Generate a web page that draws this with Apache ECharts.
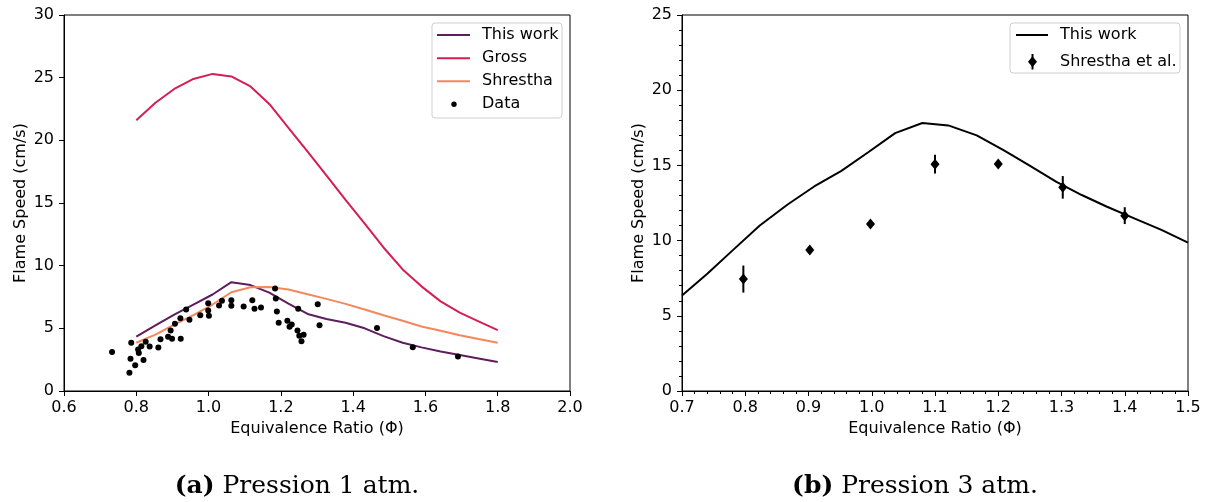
<!DOCTYPE html>
<html>
<head>
<meta charset="utf-8">
<script src="https://cdn.jsdelivr.net/npm/echarts@6/dist/echarts.min.js"></script>
<style>
html,body{margin:0;padding:0;background:#fff;}
#chart{width:1207px;height:502px;}
</style>
</head>
<body>
<div id="chart"></div>
<script>
// ---- Panel (a): 1 atm ----
const phiModel1 = [0.800,0.853,0.905,0.958,1.011,1.063,1.116,1.168,1.221,1.274,1.326,1.379,1.432,1.484,1.537,1.589,1.642,1.695,1.747,1.800];
const thisWork1 = [4.33,5.24,6.10,6.90,7.70,8.68,8.45,7.85,6.98,6.15,5.75,5.45,5.00,4.38,3.85,3.48,3.15,2.88,2.60,2.31];
const gross1    = [21.6,23.0,24.1,24.9,25.3,25.1,24.3,22.9,21.0,19.1,17.2,15.25,13.35,11.45,9.7,8.35,7.15,6.25,5.55,4.86];
const shrestha1 = [3.85,4.50,5.30,6.05,6.90,7.88,8.28,8.30,8.10,7.72,7.35,6.95,6.50,6.05,5.60,5.15,4.80,4.45,4.15,3.85];
const dataPhi1  = [0.733,0.786,0.784,0.797,0.781,0.805,0.807,0.814,0.820,0.826,0.837,0.861,0.867,0.888,0.895,0.899,0.907,0.922,0.923,0.938,
                   0.947,0.977,0.999,0.999,1.001,1.029,1.037,1.063,1.063,1.097,1.121,1.127,1.145,1.184,1.186,1.189,1.194,1.218,1.224,1.230,
                   1.246,1.248,1.251,1.257,1.263,1.302,1.307,1.466,1.565,1.690];
const dataSL1   = [3.11,3.85,2.58,2.05,1.46,3.32,3.03,3.58,2.47,3.93,3.56,3.48,4.12,4.33,4.83,4.17,5.37,5.81,4.17,6.50,
                   5.68,6.05,7.01,6.43,6.00,6.82,7.20,7.25,6.80,6.74,7.25,6.56,6.66,8.18,7.38,6.35,5.45,5.60,5.13,5.31,
                   4.83,6.56,4.41,3.96,4.49,6.93,5.25,5.02,3.50,2.76];
// ---- Panel (b): 3 atm ----
const phiModel3 = [0.700,0.740,0.780,0.823,0.867,0.909,0.952,0.995,1.037,1.080,1.121,1.166,1.209,1.249,1.292,1.332,1.372,1.415,1.458,1.500];
const thisWork3 = [6.35,7.80,9.35,11.0,12.4,13.6,14.64,15.89,17.15,17.82,17.66,17.0,16.0,15.0,13.9,13.03,12.25,11.48,10.71,9.87];
const expPhi3   = [0.797,0.902,0.998,1.100,1.200,1.302,1.400];
const expSL3    = [7.44,9.38,11.10,15.08,15.10,13.54,11.66];
const expErr3   = [0.90,0.20,0.20,0.62,0.20,0.75,0.56];
// ---- Text ----
const xTitle = 'Equivalence Ratio (Φ)';
const yTitle = 'Flame Speed (cm/s)';
const legend1 = ['This work','Gross','Shrestha','Data'];
const legend3 = ['This work','Shrestha et al.'];
const captionA = ['(a)',' Pression 1 atm.'];
const captionB = ['(b)',' Pression 3 atm.'];

const C_THIS = '#5e1d5c', C_GROSS = '#d41f52', C_SHR = '#f5875b';
const FONT = 'DejaVu Sans';
const zip = (a,b) => a.map((v,i)=>[v,b[i]]);

const axisCommon = {
  axisLine:{show:true, onZero:false, lineStyle:{color:'#000', width:1}},
  axisTick:{show:true, inside:false, length:5, lineStyle:{color:'#000', width:1}},
  splitLine:{show:false},
  nameTextStyle:{color:'#000', fontSize:16, fontFamily:FONT},
  nameLocation:'middle'
};
const lblX = {color:'#000', fontSize:16, fontFamily:FONT, margin:9, formatter:v=>v.toFixed(1)};
const lblY = {color:'#000', fontSize:16, fontFamily:FONT, margin:10, formatter:v=>String(Math.round(v))};

const chart = echarts.init(document.getElementById('chart'), null, {renderer:'canvas'});

function legendBox(x, y, w, h){
  return {type:'rect', z:100, shape:{x:x, y:y, width:w, height:h, r:3},
          style:{fill:'rgba(255,255,255,0.85)', stroke:'#cfcfcf', lineWidth:1}};
}
function legendLine(x1, x2, y, color){
  return {type:'line', z:101, shape:{x1:x1, y1:y, x2:x2, y2:y}, style:{stroke:color, lineWidth:2}};
}
function legendText(x, y, t){
  return {type:'text', z:101, x:x, y:y, style:{text:t, fill:'#000', font:'16px "DejaVu Sans"', textVerticalAlign:'middle', textAlign:'left'}};
}

const option = {
  animation:false,
  backgroundColor:'#fff',
  grid:[
    {left:64, right:637, top:15, bottom:111, show:true, borderColor:'#000', borderWidth:1, containLabel:false},
    {left:682, right:19, top:15, bottom:111, show:true, borderColor:'#000', borderWidth:1, containLabel:false}
  ],
  xAxis:[
    Object.assign({}, axisCommon, {gridIndex:0, type:'value', min:0.6, max:2.0, interval:0.2, name:xTitle, nameGap:30, axisLabel:lblX}),
    Object.assign({}, axisCommon, {gridIndex:1, type:'value', min:0.7, max:1.5, interval:0.1, name:xTitle, nameGap:30, axisLabel:lblX,
      minorTick:{show:true, splitNumber:5, length:3, lineStyle:{color:'#000', width:1}}})
  ],
  yAxis:[
    Object.assign({}, axisCommon, {gridIndex:0, type:'value', min:0, max:30, interval:5, name:yTitle, nameGap:35, nameRotate:90, axisLabel:lblY}),
    Object.assign({}, axisCommon, {gridIndex:1, type:'value', min:0, max:25, interval:5, name:yTitle, nameGap:35, nameRotate:90, axisLabel:lblY,
      minorTick:{show:true, splitNumber:5, length:3, lineStyle:{color:'#000', width:1}}})
  ],
  series:[
    {name:legend1[0], type:'line', xAxisIndex:0, yAxisIndex:0, data:zip(phiModel1, thisWork1), symbol:'none', lineStyle:{color:C_THIS, width:2}, z:3},
    {name:legend1[1], type:'line', xAxisIndex:0, yAxisIndex:0, data:zip(phiModel1, gross1), symbol:'none', lineStyle:{color:C_GROSS, width:2}, z:3},
    {name:legend1[2], type:'line', xAxisIndex:0, yAxisIndex:0, data:zip(phiModel1, shrestha1), symbol:'none', lineStyle:{color:C_SHR, width:2}, z:3},
    {name:legend1[3], type:'scatter', xAxisIndex:0, yAxisIndex:0, data:zip(dataPhi1, dataSL1), symbol:'circle', symbolSize:6, itemStyle:{color:'#000', opacity:1}, z:4},
    {name:legend3[0], type:'line', xAxisIndex:1, yAxisIndex:1, data:zip(phiModel3, thisWork3), symbol:'none', lineStyle:{color:'#000', width:2}, z:3},
    {name:legend3[1]+' err', type:'custom', xAxisIndex:1, yAxisIndex:1,
      data:expPhi3.map((p,i)=>[p, expSL3[i]-expErr3[i], expSL3[i]+expErr3[i]]),
      encode:{x:0, y:[1,2]},
      renderItem:function(params, api){
        const a = api.coord([api.value(0), api.value(1)]);
        const b = api.coord([api.value(0), api.value(2)]);
        return {type:'line', shape:{x1:a[0], y1:a[1], x2:b[0], y2:b[1]}, style:{stroke:'#000', lineWidth:2}};
      }, z:4},
    {name:legend3[1], type:'scatter', xAxisIndex:1, yAxisIndex:1, data:zip(expPhi3, expSL3), symbol:'diamond', symbolSize:[9,11], itemStyle:{color:'#000', opacity:1}, z:5}
  ],
  graphic:[
    // legend (a)
    legendBox(432, 23, 130, 95),
    legendLine(437, 470, 35, C_THIS), legendText(482, 35, legend1[0]),
    legendLine(437, 470, 58.3, C_GROSS), legendText(482, 58.3, legend1[1]),
    legendLine(437, 470, 81.3, C_SHR), legendText(482, 81.3, legend1[2]),
    {type:'circle', z:101, shape:{cx:454, cy:104.3, r:2.7}, style:{fill:'#000'}}, legendText(482, 104.3, legend1[3]),
    // legend (b)
    legendBox(1010, 23, 170, 50),
    legendLine(1016, 1048, 35, '#000'), legendText(1060, 35, legend3[0]),
    {type:'line', z:101, shape:{x1:1032.5, y1:54, x2:1032.5, y2:69.5}, style:{stroke:'#000', lineWidth:2}},
    {type:'polygon', z:102, shape:{points:[[1032.5,56.2],[1037,61.7],[1032.5,67.2],[1028,61.7]]}, style:{fill:'#000'}},
    legendText(1060, 61.7, legend3[1]),
    // captions
    {type:'text', z:101, x:297, y:486, style:{
      text:'{b|'+captionA[0]+'}{n|'+captionA[1]+'}', textAlign:'center', textVerticalAlign:'middle',
      rich:{b:{font:'bold 25px "DejaVu Serif"', fill:'#000'}, n:{font:'25px "DejaVu Serif"', fill:'#000'}}}},
    {type:'text', z:101, x:915, y:486, style:{
      text:'{b|'+captionB[0]+'}{n|'+captionB[1]+'}', textAlign:'center', textVerticalAlign:'middle',
      rich:{b:{font:'bold 25px "DejaVu Serif"', fill:'#000'}, n:{font:'25px "DejaVu Serif"', fill:'#000'}}}}
  ]
};
chart.setOption(option);
</script>
</body>
</html>
